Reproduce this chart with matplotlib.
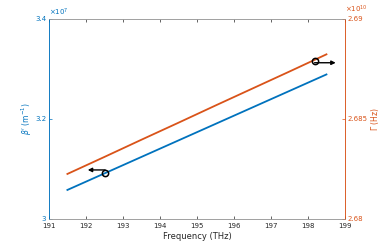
import numpy as np
import matplotlib
matplotlib.use("Agg")
import matplotlib.pyplot as plt
from matplotlib.ticker import FuncFormatter

freq = [191.5, 192.5, 193.5, 194.5, 195.5, 196.5, 197.5, 198.5]
beta = [3.058e7, 3.091e7, 3.124e7, 3.157e7, 3.190e7, 3.223e7, 3.256e7, 3.289e7]
gamma = [2.68225e10, 2.68310e10, 2.68396e10, 2.68481e10, 2.68567e10, 2.68652e10, 2.68737e10, 2.68823e10]

# circle + arrow markers (freq, value, arrow end freq)
beta_mark = (192.52, 3.092e7, 192.05)
gamma_mark = (198.18, 2.68789e10, 198.75)

blue = (0.0, 0.447, 0.741)
orange = (0.85, 0.325, 0.098)
grey = (0.15, 0.15, 0.15)
fs = 5

plt.rcParams['font.family'] = ['DejaVu Sans']
fig = plt.figure(figsize=(3.82, 2.46), dpi=100)
ax = fig.add_axes([0.128, 0.110, 0.775, 0.813])
ax2 = ax.twinx()

ax.plot(freq, beta, color=blue, lw=1.3)
ax2.plot(freq, gamma, color=orange, lw=1.3)

# markers
ax.plot(beta_mark[0], beta_mark[1], 'o', mfc='none', mec='k', ms=4.5, mew=1.1)
ax.annotate('', xy=(beta_mark[2], beta_mark[1] + 0.006e7), xytext=(beta_mark[0], beta_mark[1] + 0.006e7),
            arrowprops=dict(arrowstyle='-|>', color='k', lw=1.0, mutation_scale=6, shrinkA=0, shrinkB=0))
ax2.plot(gamma_mark[0], gamma_mark[1], 'o', mfc='none', mec='k', ms=4.5, mew=1.1)
ax2.annotate('', xy=(gamma_mark[2], gamma_mark[1] - 0.00008e10), xytext=(gamma_mark[0], gamma_mark[1] - 0.00008e10),
             arrowprops=dict(arrowstyle='-|>', color='k', lw=1.0, mutation_scale=6, shrinkA=0, shrinkB=0))

ax.set_xlim(191, 199)
ax.set_xticks(np.arange(191, 200, 1))
ax.set_ylim(3e7, 3.4e7)
ax.set_yticks([3e7, 3.2e7, 3.4e7])
ax2.set_ylim(2.68e10, 2.69e10)
ax2.set_yticks([2.68e10, 2.685e10, 2.69e10])

# MATLAB-style exponent labels
ax.yaxis.set_major_formatter(FuncFormatter(lambda v, p: f'{v / 1e7:g}'))
ax2.yaxis.set_major_formatter(FuncFormatter(lambda v, p: f'{v / 1e10:g}'))
ax.text(0.0, 1.005, r'$\times10^{7}$', transform=ax.transAxes, fontsize=fs, color=blue, ha='left', va='bottom')
ax.text(1.0, 1.02, r'$\times10^{10}$', transform=ax.transAxes, fontsize=fs, color=orange, ha='left', va='bottom')

ax.tick_params(axis='x', direction='in', labelsize=fs, colors=grey, length=2.5, width=0.5, top=True, pad=3)
ax.tick_params(axis='y', direction='in', labelsize=fs, colors=blue, length=2.5, width=0.5, pad=2)
ax2.tick_params(axis='y', direction='in', labelsize=fs, colors=orange, length=2.5, width=0.5, pad=2)

for a in (ax, ax2):
    a.spines['top'].set_color('#999999')
    a.spines['bottom'].set_color('#999999')
    a.spines['left'].set_color(blue)
    a.spines['right'].set_color(orange)
    for s in a.spines.values():
        s.set_linewidth(0.5)

ax.set_xlabel('Frequency (THz)', fontsize=6, color=grey, labelpad=2)
ax.set_ylabel(r"$\beta'$ (m$^{-1}$)", fontsize=5.5, color=blue, labelpad=1)
ax2.set_ylabel(r'$\Gamma$ (Hz)', fontsize=5.5, color=orange, rotation=90, labelpad=1)

fig.savefig('out.png', dpi=100)
